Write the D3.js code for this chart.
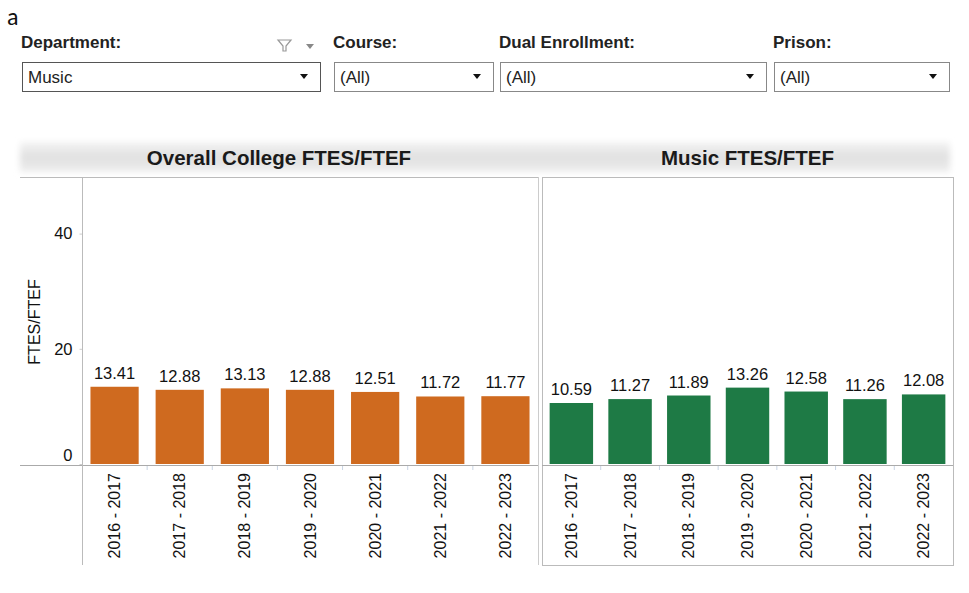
<!DOCTYPE html>
<html>
<head>
<meta charset="utf-8">
<script src="https://cdn.jsdelivr.net/npm/d3@7"></script>
<style>
  html, body { margin: 0; padding: 0; background: #fff; }
  svg { display: block; font-family: "Liberation Sans", Arial, sans-serif; }
</style>
</head>
<body>
<svg id="chart" width="969" height="593"></svg>
<script>
// Academic years shown on both panels
const years = ["2016 - 2017", "2017 - 2018", "2018 - 2019", "2019 - 2020",
               "2020 - 2021", "2021 - 2022", "2022 - 2023"];
// FTES/FTEF ratio, college-wide
const collegeValues = [13.41, 12.88, 13.13, 12.88, 12.51, 11.72, 11.77];
// FTES/FTEF ratio, Music department
const musicValues = [10.59, 11.27, 11.89, 13.26, 12.58, 11.26, 12.08];
const yTicks = [0, 20, 40];
const panelTitles = ["Overall College FTES/FTEF", "Music FTES/FTEF"];
const filterLabels = ["Department:", "Course:", "Dual Enrollment:", "Prison:"];
const filterValues = ["Music", "(All)", "(All)", "(All)"];

const svg = d3.select("#chart");
const FS = "16.5px";

// Panel letter
svg.append("text").attr("x", 7).attr("y", 25)
  .style("font-family", "Carlito, 'Noto Sans', sans-serif")
  .style("font-size", "24px").attr("fill", "#111").text("a");

// Filter controls
const filterBoxes = [
  { x: 22, w: 298 }, { x: 334, w: 159 }, { x: 500, w: 266 }, { x: 774, w: 175 }
];
filterBoxes.forEach((b, i) => {
  svg.append("text").attr("x", b.x - 1).attr("y", 48)
    .style("font-size", "17px").style("font-weight", "bold").attr("fill", "#222")
    .text(filterLabels[i]);
  svg.append("rect").attr("x", b.x + 0.5).attr("y", 62.5)
    .attr("width", b.w).attr("height", 29)
    .attr("fill", "#fff").attr("stroke", i === 0 ? "#555" : "#888");
  svg.append("text").attr("x", b.x + 6).attr("y", 83)
    .style("font-size", "17px").attr("fill", "#222").text(filterValues[i]);
  const ax = b.x + b.w - 16;
  svg.append("path")
    .attr("d", `M${ax - 4},74 L${ax + 4},74 L${ax},79 Z`).attr("fill", "#111");
});
// Filter icon and dropdown arrow next to the Department label
svg.append("path")
  .attr("d", "M278,40 L291,40 L286,46 L286,51 L283,51 L283,46 Z")
  .attr("fill", "none").attr("stroke", "#999").attr("stroke-width", 1.2);
svg.append("path").attr("d", "M306,44 L314,44 L310,49 Z").attr("fill", "#888");

// Chart geometry
const yTop = 176, yBase = 464, panelBottom = 565;
const y = d3.scaleLinear().domain([0, 50]).range([yBase, yTop]);

// Header band shading
const defs = svg.append("defs");
const grad = defs.append("linearGradient").attr("id", "hdr").attr("x1", 0).attr("y1", 0).attr("x2", 0).attr("y2", 1);
grad.append("stop").attr("offset", "0%").attr("stop-color", "#f4f4f4");
grad.append("stop").attr("offset", "50%").attr("stop-color", "#e0e0e0");
grad.append("stop").attr("offset", "100%").attr("stop-color", "#eeeeee");
const blur = defs.append("filter").attr("id", "soft").attr("x", "-5%").attr("y", "-50%").attr("width", "110%").attr("height", "200%");
blur.append("feGaussianBlur").attr("stdDeviation", 3);
svg.append("rect").attr("x", 20).attr("y", 142).attr("width", 930).attr("height", 30)
  .attr("fill", "url(#hdr)").attr("filter", "url(#soft)");

const panels = [
  { x0: 82, x1: 538, lineStart: 20, values: collegeValues, color: "#cf6a1f", title: panelTitles[0] },
  { x0: 542, x1: 953, lineStart: 542, values: musicValues, color: "#1e7a45", title: panelTitles[1] }
];

panels.forEach((p, pi) => {
  const x = d3.scaleBand().domain(years).range([p.x0, p.x1]).paddingInner(0.26).paddingOuter(0.13);
  const g = svg.append("g");

  // Title
  g.append("text").attr("x", (p.lineStart + p.x1) / 2).attr("y", 165)
    .attr("text-anchor", "middle").style("font-size", "20.5px").style("font-weight", "bold")
    .attr("fill", "#1a1a1a").text(p.title);

  // Panel frame
  if (pi === 0) {
    g.append("line").attr("x1", 20).attr("x2", p.x1).attr("y1", 177.5).attr("y2", 177.5).attr("stroke", "#bbb");
    g.append("line").attr("x1", p.x1 + 0.5).attr("x2", p.x1 + 0.5).attr("y1", 177).attr("y2", panelBottom).attr("stroke", "#ccc");
  } else {
    g.append("rect").attr("x", p.x0 + 0.5).attr("y", 177.5).attr("width", p.x1 - p.x0).attr("height", panelBottom - 177)
      .attr("fill", "none").attr("stroke", "#bbb");
  }

  // Bars
  g.selectAll("rect.bar").data(p.values).join("rect").attr("class", "bar")
    .attr("x", (d, i) => x(years[i])).attr("width", x.bandwidth())
    .attr("y", d => y(d)).attr("height", d => yBase - y(d))
    .attr("fill", p.color);

  // Value labels
  g.selectAll("text.val").data(p.values).join("text").attr("class", "val")
    .attr("x", (d, i) => x(years[i]) + x.bandwidth() / 2).attr("y", d => y(d) - 8)
    .attr("text-anchor", "middle").style("font-size", FS).attr("fill", "#111")
    .text(d => d.toFixed(2));

  // Baseline across the panel
  g.append("line").attr("x1", p.lineStart).attr("x2", p.x1).attr("y1", yBase + 1.5).attr("y2", yBase + 1.5)
    .attr("stroke", "#aaa");

  // Faint separators between categories
  const step = x.step();
  g.selectAll("line.sep").data(years.slice(1)).join("line").attr("class", "sep")
    .attr("x1", d => x(d) - (step - x.bandwidth()) / 2).attr("x2", d => x(d) - (step - x.bandwidth()) / 2)
    .attr("y1", yBase + 2).attr("y2", yBase + 6).attr("stroke", "#c8d4e4");

  // Category axis
  const xAxis = d3.axisBottom(x).tickSize(0).tickPadding(6);
  const ax = g.append("g").attr("transform", `translate(0,${yBase + 1})`).call(xAxis);
  ax.select(".domain").remove();
  ax.selectAll(".tick text")
    .attr("transform", "rotate(-90)").attr("text-anchor", "end")
    .attr("x", -8).attr("y", 0).attr("dy", "0.35em")
    .style("font-size", "16px").style("font-family", "'Liberation Sans', Arial, sans-serif")
    .attr("fill", "#111");
});

// Value axis on the left panel
const yAxis = d3.axisLeft(y).tickValues(yTicks).tickSize(3).tickPadding(7);
const ya = svg.append("g").attr("transform", "translate(82.5,0)").call(yAxis);
ya.select(".domain").remove();
ya.append("line").attr("x1", 0).attr("x2", 0).attr("y1", 177).attr("y2", panelBottom).attr("stroke", "#bbb");
ya.selectAll(".tick line").attr("stroke", "#ccc");
ya.selectAll(".tick text").style("font-size", FS).style("font-family", "'Liberation Sans', Arial, sans-serif")
  .attr("fill", "#111").attr("dy", (d) => d === 0 ? "-0.2em" : "0.32em");

svg.append("text").attr("transform", "translate(40,322) rotate(-90)")
  .attr("text-anchor", "middle").style("font-size", "16px").attr("fill", "#111").text("FTES/FTEF");
</script>
</body>
</html>
